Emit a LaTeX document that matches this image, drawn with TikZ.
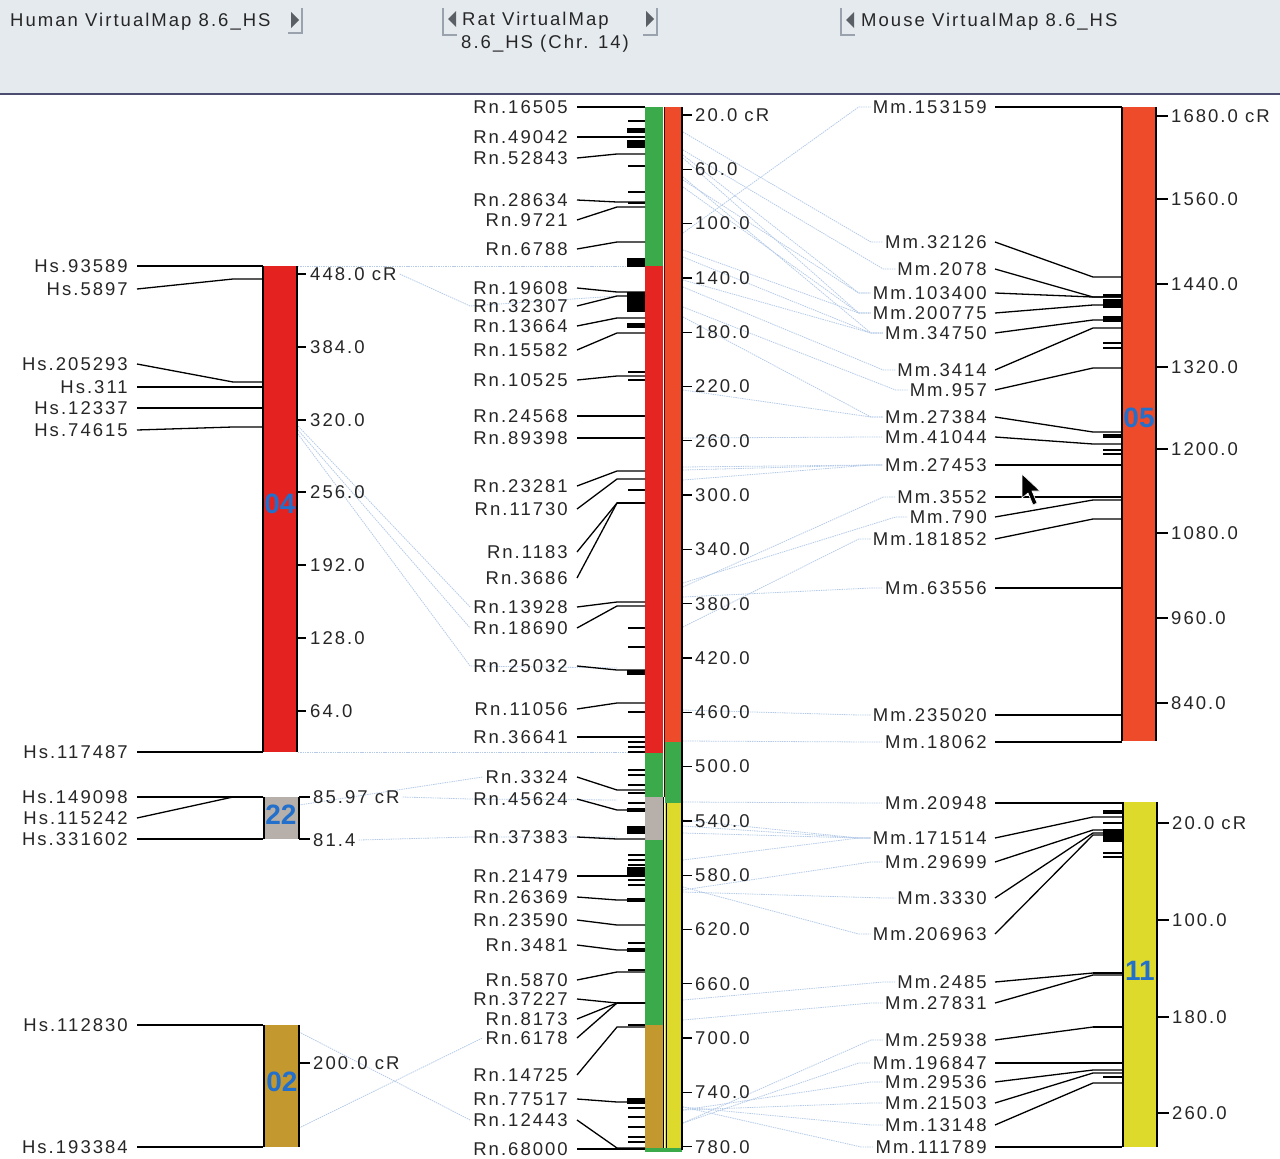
\documentclass[tikz,border=0pt]{standalone}
\usepackage{fontspec}
\newfontfamily\labfam[LetterSpace=11]{Liberation Sans}
\newfontfamily\chrfam{Liberation Sans}
\newcommand\lbfont{\labfam\fontsize{18.5}{20}\selectfont}
\newcommand\cnfont{\chrfam\bfseries\fontsize{28}{30}\selectfont}
\definecolor{redH}{HTML}{E42320}
\definecolor{redL}{HTML}{E52521}
\definecolor{orn}{HTML}{EE4B2B}
\definecolor{grn}{HTML}{3BAA4A}
\definecolor{gry}{HTML}{B7AFA9}
\definecolor{tanc}{HTML}{C3982F}
\definecolor{yel}{HTML}{DEDA2B}
\definecolor{numc}{HTML}{2270CC}
\definecolor{connc}{HTML}{B4CAE8}
\definecolor{labc}{HTML}{262626}
\definecolor{hdr}{HTML}{E5EAEF}
\definecolor{btnc}{HTML}{5A5F66}
\definecolor{bevc}{HTML}{9AA3AD}
\pgfdeclarelayer{bg}\pgfdeclarelayer{cn}\pgfsetlayers{bg,cn,main}
\begin{document}
\begin{tikzpicture}[x=1pt,y=-1pt,
  lab/.style={font=\lbfont, text=labc, inner sep=0pt},
  leader/.style={draw=black, line width=1.3pt},
  tk/.style={draw=black, line width=1.3pt},
  axis/.style={draw=black, line width=1.3pt},
  conn/.style={draw=connc, line width=0.8pt, dash pattern=on 1.4pt off 0.9pt},
  chrnum/.style={font=\cnfont, text=numc, inner sep=0pt},
  btn/.style={fill=btnc},
  bevel/.style={draw=bevc, line width=1.6pt}]
\useasboundingbox (0,0) rectangle (1280,1159);
\begin{pgfonlayer}{bg}
\fill[white] (0,0) rectangle (1280,1159);
\fill[hdr] (0,0) rectangle (1280,94);
\draw[draw=black!65!blue!40!gray, line width=1.3pt] (0,94) -- (1280,94);
\end{pgfonlayer}
% ---------- header ----------
\node[lab, anchor=base west] (hh) at (10,26) {Human VirtualMap 8.6\_HS};
\fill[btnc] (291,12) -- (299,20) -- (291,28) -- cycle;
\draw[bevel] (302,8) -- (302,33) -- (288,33);
\node[lab, anchor=base west] (hr1) at (462,25) {Rat VirtualMap};
\node[lab, anchor=base west] (hr2) at (461,48) {8.6\_HS (Chr. 14)};
\draw[bevel] (443,8) -- (443,35) -- (457,35);
\fill[btnc] (456,11) -- (448,19) -- (456,27) -- cycle;
\fill[btnc] (646,11) -- (654,19) -- (646,27) -- cycle;
\draw[bevel] (657,8) -- (657,35) -- (643,35);
\draw[bevel] (841,8) -- (841,35) -- (855,35);
\fill[btnc] (854,12) -- (846,20) -- (854,28) -- cycle;
\node[lab, anchor=base west] (hm) at (861,26) {Mouse VirtualMap 8.6\_HS};
% ---------- human bars ----------
\fill[redH] (263,266) rectangle (297,752);
\fill[gry] (264,797) rectangle (299,839);
\fill[tanc] (264,1025) rectangle (299,1147);
\draw[axis] (263,266) -- (263,752) (297,266) -- (297,752);
\draw[axis] (264,797) -- (264,839) (299,797) -- (299,839);
\draw[axis] (264,1025) -- (264,1147) (299,1025) -- (299,1147);
\node[chrnum] (c04) at (280,504) {04};
\node[chrnum] (c22) at (281,815) {22};
\node[chrnum] (c02) at (282,1082) {02};
\draw[tk] (297,274) -- (306,274); \node[lab,anchor=west] (h448) at (310,274) {448.0 cR};
\draw[tk] (297,347) -- (306,347); \node[lab,anchor=west] (h384) at (310,347) {384.0};
\draw[tk] (297,420) -- (306,420); \node[lab,anchor=west] (h320) at (310,420) {320.0};
\draw[tk] (297,492) -- (306,492); \node[lab,anchor=west] (h256) at (310,492) {256.0};
\draw[tk] (297,565) -- (306,565); \node[lab,anchor=west] (h192) at (310,565) {192.0};
\draw[tk] (297,638) -- (306,638); \node[lab,anchor=west] (h128) at (310,638) {128.0};
\draw[tk] (297,711) -- (306,711); \node[lab,anchor=west] (h64) at (310,711) {64.0};
\draw[tk] (299,797) -- (310,797); \node[lab,anchor=west] (h8597) at (313,797) {85.97 cR};
\draw[tk] (299,839) -- (310,839); \node[lab,anchor=west] (h814) at (313,840) {81.4};
\draw[tk] (299,1063) -- (310,1063); \node[lab,anchor=west] (h200) at (313,1063) {200.0 cR};
\foreach \n/\ly/\ty in {93589/266/266, 5897/289/279, 205293/364/382, 311/387/387,
  12337/408/408, 74615/430/427, 117487/752/752, 149098/797/797, 115242/818/797,
  331602/839/839, 112830/1025/1025, 193384/1147/1147}
{ \node[lab,anchor=east] (hs\n) at (128,\ly) {Hs.\n};
  \draw[leader] ([xshift=9]hs\n.east) -- (233,\ty) -- (263,\ty); }
% ---------- rat bars ----------
\fill[grn] (645,107) rectangle (663,266);
\fill[redL] (645,266) rectangle (663,753);
\fill[grn] (645,753) rectangle (663,797);
\fill[gry] (645,797) rectangle (663,840);
\fill[grn] (645,840) rectangle (663,1025);
\fill[tanc] (645,1025) rectangle (663,1148);
\fill[orn] (665,107) rectangle (682,742);
\fill[grn] (665,742) rectangle (682,803);
\fill[yel] (665,803) rectangle (682,1148);
\fill[grn] (645,1148) rectangle (682,1152);
\draw[draw=black!70!red, line width=0.9pt] (664,107) -- (664,797);
\draw[draw=black, line width=0.9pt] (663.5,797) -- (663.5,1148) (666,803) -- (666,1148);
\draw[axis] (682,107) -- (682,1150);
\foreach \v in {20,60,...,780}
{ \pgfmathsetmacro\yy{115+(\v-20)*1.3575}
  \draw[tk] (682,\yy) -- (692,\yy);
  \node[lab,anchor=west] (rt\v) at (695,\yy) {\ifnum\v=20 20.0 cR\else\v.0\fi}; }
\foreach \y in {121,166,192,203,372,380,490,628,647,712,742,747,752,770,775,785,793,803,855,860,865,880,885,943,970,1025,1108,1117,1127,1137,1142}
{ \draw[tk] (628,\y) -- (645,\y); }
\foreach \a/\b in {128/133,140/148,258/267,292/312,323/328,670/675,867/877,1098/1104,808/812,826/834,898/902,948/952}
{ \fill[black] (627,\a) rectangle (645,\b); }
\draw[draw=black, line width=2.6pt] (617,503) -- (645,503);
\draw[draw=black, line width=2.2pt] (617,1003) -- (645,1003);
\foreach \n/\ly/\ty in {16505/107/107, 49042/137/137, 52843/158/154, 28634/200/202,
  9721/220/207, 6788/249/242, 19608/288/292, 32307/306/296, 13664/326/318,
  15582/350/333, 10525/380/376, 24568/416/416, 89398/438/438, 23281/486/471,
  11730/509/479, 1183/552/503, 3686/578/503, 13928/607/602, 18690/628/606,
  25032/666/670, 11056/709/703, 36641/737/737, 3324/777/790, 45624/799/810,
  37383/837/839, 21479/876/876, 26369/897/900, 23590/920/925, 3481/945/950,
  5870/980/972, 37227/999/1003, 8173/1019/1003, 6178/1038/1003, 14725/1075/1027,
  77517/1099/1102, 12443/1120/1148, 68000/1149/1149}
{ \node[lab,anchor=east] (r\n) at (568,\ly) {Rn.\n};
  \draw[leader] ([xshift=9]r\n.east) -- (617,\ty) -- (645,\ty); }
% ---------- mouse bars ----------
\fill[orn] (1122,107) rectangle (1156,741);
\fill[yel] (1123,802) rectangle (1157,1147);
\draw[axis] (1122,107) -- (1122,741) (1156,107) -- (1156,741);
\draw[axis] (1123,802) -- (1123,1147) (1157,802) -- (1157,1147);
\node[chrnum] (c05) at (1139,418) {05};
\node[chrnum] (c11) at (1140,971) {11};
\foreach \y/\t/\nm in {116/1680.0 cR/m1680, 199/1560.0/m1560, 284/1440.0/m1440, 367/1320.0/m1320,
  449/1200.0/m1200, 533/1080.0/m1080, 618/960.0/m960, 703/840.0/m840}
{ \draw[tk] (1156,\y) -- (1168,\y); \node[lab,anchor=west] (\nm) at (1171,\y) {\t}; }
\foreach \y/\t/\nm in {823/20.0 cR/n20, 920/100.0/n100, 1017/180.0/n180, 1113/260.0/n260}
{ \draw[tk] (1157,\y) -- (1169,\y); \node[lab,anchor=west] (\nm) at (1172,\y) {\t}; }
\foreach \y in {343,348,450,454,823,853,857,1077}
{ \draw[tk] (1103,\y) -- (1122,\y); }
\foreach \a/\b in {294/297,299/308,316/322,434/438,810/814,829/842}
{ \fill[black] (1103,\a) rectangle (1122,\b); }
\draw[draw=black, line width=2.6pt] (1093,973) -- (1122,973);
\draw[draw=black, line width=2.2pt] (1093,1027) -- (1122,1027);
\foreach \n/\ly/\ty in {153159/107/107, 32126/242/277, 2078/269/297, 103400/293/297,
  200775/313/305, 34750/333/320, 3414/370/328, 957/390/368, 27384/417/432,
  41044/437/444, 27453/465/465, 3552/497/497, 790/517/500, 181852/539/519,
  63556/588/588, 235020/715/715, 18062/742/742, 20948/803/803, 171514/838/817,
  29699/862/830, 3330/898/833, 206963/934/835, 2485/982/973, 27831/1003/975,
  25938/1040/1027, 196847/1063/1063, 29536/1082/1070, 21503/1103/1073,
  13148/1125/1083, 111789/1147/1147}
{ \node[lab,anchor=east] (m\n) at (987,\ly) {Mm.\n};
  \draw[leader] ([xshift=8]m\n.east) -- (1093,\ty) -- (1122,\ty); }
% ---------- cursor ----------
\filldraw[fill=black, draw=white, line width=0.6pt] (1022,474) -- (1022,498) -- (1028,493) -- (1033,505) -- (1037,503) -- (1032,491) -- (1040,491) -- cycle;
% ---------- comparative connectors ----------
\begin{pgfonlayer}{cn}
\foreach \ry/\m in {233/153159, 132/32126, 150/2078, 155/103400, 158/200775, 177/34750,
  180/103400, 187/200775, 250/200775, 257/34750, 280/34750, 287/3414, 307/957,
  317/27384, 390/27384, 438/41044, 467/27453, 470/27453, 480/27453, 587/3552,
  583/790, 627/181852, 597/63556, 710/235020, 741/18062, 802/20948, 820/171514,
  826/171514, 833/171514, 860/171514, 890/29699, 892/3330, 887/206963,
  1000/2485, 1020/27831, 1123/25938, 1123/196847, 1110/29536, 1110/21503,
  1107/13148, 1107/111789}
{ \draw[conn] (683,\ry) -- ([xshift=-14]m\m.west) -- ([xshift=-2]m\m.west); }
\draw[conn] (298,266) -- (628,266);
\draw[conn] ([xshift=3]h448.east) -- ([xshift=-3]r32307.west) -- (617,296);
\draw[conn] (298,426) -- ([xshift=-3]r13928.west);
\draw[conn] (298,430) -- ([xshift=-3]r18690.west);
\draw[conn] (298,434) -- ([xshift=-3]r25032.west) -- (617,668);
\draw[conn] (298,752) -- (628,752);
\draw[conn] ([xshift=3]h8597.east) -- ([xshift=-3]r45624.west) -- (617,800);
\draw[conn] (299,805) -- ([xshift=-3]r3324.west);
\draw[conn] ([xshift=3]h814.east) -- ([xshift=-3]r37383.west) -- (617,837);
\draw[conn] (299,1032) -- ([xshift=-3]r12443.west);
\draw[conn] (299,1128) -- ([xshift=-3]r6178.west);
\end{pgfonlayer}
\end{tikzpicture}
\end{document}
